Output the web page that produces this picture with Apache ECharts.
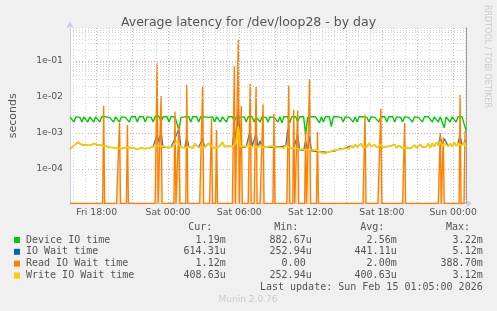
<!DOCTYPE html>
<html><head><meta charset="utf-8">
<script src="https://cdn.jsdelivr.net/npm/echarts@6/dist/echarts.min.js"></script>
<style>html,body{margin:0;padding:0;background:#F0F0F0}#c{width:497px;height:311px}</style>
</head><body><div id="c"></div>
<script>
// ---------- data (values in milliseconds) ----------
const seriesNames = ['Device IO time', 'IO Wait time', 'Read IO Wait time', 'Write IO Wait time'];
const seriesColors = ['#00CC00', '#0066B3', '#FF8000', '#FFCC00'];
const tickLabels = ['Fri 18:00', 'Sat 00:00', 'Sat 06:00', 'Sat 12:00', 'Sat 18:00', 'Sun 00:00'];
const yTickLabels = ['1e-04', '1e-03', '1e-02', '1e-01'];

// Device IO time, one value every 10 minutes from Fri 15:45 to Sun 01:05 (ms)
const deviceIO = [
2.8,2.7,2.0,2.8,2.8,2.7,2.0,2.8,2.7,2.0,
2.8,2.7,2.0,2.8,2.8,2.0,2.8,2.7,2.8,2.8,
2.7,2.8,2.0,2.8,2.7,2.0,2.8,2.8,2.7,2.8,
2.0,2.8,2.7,2.8,2.0,2.8,2.7,2.8,2.0,2.8,
2.8,2.7,2.0,2.8,3.2,2.8,2.0,2.8,2.7,2.8,
2.0,2.8,2.7,2.8,2.7,1.2,2.7,2.8,2.8,2.7,
2.8,2.0,2.8,2.7,2.8,2.0,2.8,2.7,2.8,2.8,
2.7,2.8,2.8,2.0,2.8,2.7,2.0,2.8,2.8,2.0,
2.8,2.7,2.8,2.1,2.8,2.8,2.7,2.8,2.8,2.0,
2.8,2.7,2.8,2.0,2.8,2.7,2.0,2.8,2.8,2.7,
2.0,2.8,2.8,2.7,2.8,2.0,2.8,1.9,2.8,2.7,
2.8,1.9,2.8,2.7,2.8,2.0,2.8,2.7,2.8,0.9,
2.7,2.8,2.8,2.7,2.8,2.7,1.9,2.8,2.0,2.8,
2.7,2.8,1.5,2.8,2.7,2.8,2.8,2.7,2.0,2.8,
2.8,2.7,2.8,2.0,2.8,2.0,2.8,2.7,2.8,2.8,
2.7,2.0,2.8,2.8,2.7,2.8,2.0,2.8,2.7,2.8,
2.0,2.8,2.7,2.8,2.0,2.8,2.8,2.7,2.0,2.8,
2.8,2.7,2.8,2.0,2.8,2.8,2.7,2.8,2.0,2.8,
2.7,2.8,2.8,2.0,2.8,2.7,2.0,2.8,2.7,1.4,
2.8,2.7,2.0,2.8,2.8,2.0,2.8,2.7,2.8,2.6,
1.19];

// IO Wait time (ms), every 10 minutes
const ioWait = [
0.36,0.40,0.45,0.50,0.55,0.52,0.47,0.50,0.46,0.48,
0.45,0.48,0.50,0.46,0.47,0.44,0.45,0.42,0.43,0.41,
0.40,0.42,0.39,0.41,0.38,0.40,0.37,0.36,0.39,0.38,
0.40,0.37,0.38,0.41,0.36,0.39,0.38,0.40,0.37,0.39,
0.38,0.40,0.42,0.40,0.90,0.55,1.10,0.40,0.41,0.40,
0.38,0.40,0.42,0.70,0.62,1.30,0.40,0.41,0.39,0.80,
0.42,0.40,0.38,0.50,0.45,0.40,0.41,0.70,0.40,0.44,
0.52,0.45,0.40,0.38,0.42,0.40,0.45,0.55,0.42,0.40,
0.43,0.48,0.42,1.50,0.57,5.10,0.60,0.40,0.43,0.41,
0.44,1.20,0.42,0.45,1.00,0.40,0.60,0.42,0.40,0.41,
0.42,0.40,0.44,0.41,0.40,0.42,0.40,0.42,0.38,0.45,
1.30,0.39,0.40,0.38,0.41,0.90,0.34,0.35,0.33,0.60,
0.33,0.80,0.32,0.34,0.31,0.33,0.30,0.28,0.30,0.27,
0.29,0.30,0.31,0.33,0.32,0.34,0.36,0.35,0.37,0.38,
0.40,0.36,0.45,0.39,0.47,0.41,0.44,0.50,0.40,0.45,
0.42,0.52,0.43,0.40,0.46,0.39,0.42,0.48,0.40,0.38,
0.42,0.37,0.44,0.40,0.47,0.39,0.45,0.40,0.38,0.43,
0.40,0.45,0.37,0.42,0.46,0.39,0.43,0.48,0.40,0.44,
0.42,0.50,0.40,0.52,0.42,0.55,0.45,0.80,0.44,0.70,
0.55,0.43,0.50,0.42,0.56,0.44,0.52,0.90,0.45,0.55,
0.614];

// Write IO Wait time (ms), every 10 minutes
const writeWait = [
0.36,0.40,0.45,0.50,0.55,0.52,0.47,0.50,0.46,0.48,
0.45,0.48,0.50,0.46,0.47,0.44,0.45,0.42,0.43,0.41,
0.40,0.42,0.39,0.41,0.38,0.40,0.37,0.36,0.39,0.38,
0.40,0.37,0.38,0.41,0.36,0.39,0.38,0.40,0.37,0.39,
0.38,0.40,0.42,0.40,0.45,0.50,0.43,0.40,0.41,0.40,
0.38,0.40,0.42,0.45,0.60,0.48,0.40,0.41,0.39,0.40,
0.42,0.40,0.38,0.50,0.45,0.40,0.41,0.39,0.40,0.44,
0.52,0.45,0.40,0.38,0.42,0.40,0.45,0.55,0.42,0.40,
0.43,0.48,0.42,0.40,0.55,1.50,0.42,0.40,0.43,0.41,
0.44,0.40,0.42,0.45,0.41,0.40,0.43,0.42,0.40,0.41,
0.42,0.40,0.44,0.41,0.40,0.42,0.40,0.42,0.38,0.45,
0.41,0.39,0.40,0.38,0.41,0.37,0.34,0.35,0.33,0.34,
0.33,0.35,0.32,0.34,0.31,0.33,0.30,0.28,0.30,0.27,
0.29,0.30,0.31,0.33,0.32,0.34,0.36,0.35,0.37,0.38,
0.40,0.36,0.45,0.39,0.47,0.41,0.44,0.50,0.40,0.45,
0.42,0.52,0.43,0.40,0.46,0.39,0.42,0.48,0.40,0.38,
0.42,0.37,0.44,0.40,0.47,0.39,0.45,0.40,0.38,0.43,
0.40,0.45,0.37,0.42,0.46,0.39,0.43,0.48,0.40,0.44,
0.42,0.50,0.40,0.52,0.42,0.55,0.45,0.58,0.44,0.50,
0.55,0.43,0.50,0.42,0.56,0.44,0.52,0.58,0.45,0.55,
0.41];

// Read IO Wait time: 0 except at these 5-minute samples (ms)
const readSpikeTimes = ['Fri 18:35','Fri 19:55','Fri 20:35','Fri 23:05','Fri 23:25','Sat 00:35','Sat 00:55',
  'Sat 01:35','Sat 02:55','Sat 03:40','Sat 04:05','Sat 05:35','Sat 05:55','Sat 06:10','Sat 06:55','Sat 07:25',
  'Sat 08:00','Sat 08:55','Sat 10:10','Sat 10:35','Sat 10:55','Sat 11:35','Sat 11:55','Sat 12:35','Sat 16:35',
  'Sat 17:55','Sat 19:55','Sat 22:55','Sat 23:10','Sun 00:35','Sun 01:00','Sun 01:05'];
const readSpikeValues = [5.7,1.9,1.7,85.7,10.5,3.9,1.7,
  21.8,20.4,2.5,1.2,70,388.7,5.5,23,19,
  6.1,3.4,20.5,4.4,4.1,1.1,31,1.07,3.2,
  4.7,1.9,1.0,0.75,11.5,1.12,1.12];

// legend statistics
const statHeaders = ['Cur:', 'Min:', 'Avg:', 'Max:'];
const statCur = ['1.19m', '614.31u', '1.12m', '408.63u'];
const statMin = ['882.67u', '252.94u', '0.00 ', '252.94u'];
const statAvg = ['2.56m', '441.11u', '2.00m', '400.63u'];
const statMax = ['3.22m', '5.12m', '388.70m', '3.12m'];

// ---------- build ----------
const Y_MIN = 1.11e-5, Y_MAX = 0.81;
const days = ['Sun','Mon','Tue','Wed','Thu','Fri','Sat'];
const pad = n => String(n).padStart(2, '0');
const categories = [];
const start = new Date(2026, 1, 13, 15, 45, 0);
for (let i = 0; i <= 400; i++) {
  const d = new Date(start.getTime() + i * 300000);
  categories.push(days[d.getDay()] + ' ' + pad(d.getHours()) + ':' + pad(d.getMinutes()));
}
const hourOf = v => parseInt(v.slice(4, 6), 10);
const isHour = v => v.endsWith(':00');

const toPairs = arr => arr.map((v, i) => [2 * i, v / 1000]);
const readData = categories.map(() => 0);
readSpikeTimes.forEach((t, k) => { const idx = categories.indexOf(t); if (idx >= 0) readData[idx] = readSpikeValues[k]; });
const readPairs = readData.map((v, i) => [i, v === 0 ? Y_MIN : v / 1000]);

const minorLevels = [];
[-5, -4, -3, -2, -1].forEach(e => { for (let m = 2; m <= 9; m++) { const v = m * Math.pow(10, e); if (v > Y_MIN && v < Y_MAX) minorLevels.push(v); } });

const FONT = 'DejaVu Sans';
const MONO = 'DejaVu Sans Mono';
const lineSeries = (name, data, color, width, extra) => Object.assign({
  name, type: 'line', data, showSymbol: false, symbol: 'none',
  lineStyle: { color, width }, itemStyle: { color }, animation: false, clip: true
}, extra || {});

const rowsY = [240, 251.8, 263.6, 275.5];
const colRight = [225.7, 311.7, 396.7, 482.7];
const headRight = [212.3, 298.3, 384.3, 470];
const graphics = [];
statHeaders.forEach((h, j) => graphics.push({ type: 'text', x: headRight[j], y: 227.5,
  style: { text: h, font: '10px ' + MONO, fill: '#555', textAlign: 'right', textVerticalAlign: 'middle' } }));
const cols = [statCur, statMin, statAvg, statMax];
seriesNames.forEach((n, r) => {
  graphics.push({ type: 'rect', shape: { x: 14, y: rowsY[r] - 3, width: 6, height: 6 }, style: { fill: seriesColors[r] } });
  graphics.push({ type: 'text', x: 26, y: rowsY[r], style: { text: n, font: '10px ' + MONO, fill: '#555', textVerticalAlign: 'middle' } });
  cols.forEach((c, j) => graphics.push({ type: 'text', x: colRight[j], y: rowsY[r],
    style: { text: c[r], font: '10px ' + MONO, fill: '#555', textAlign: 'right', textVerticalAlign: 'middle' } }));
});
graphics.push({ type: 'text', x: 482.7, y: 287.7, style: { text: 'Last update: Sun Feb 15 01:05:00 2026', font: '10px ' + MONO, fill: '#555', textAlign: 'right', textVerticalAlign: 'middle' } });
graphics.push({ type: 'text', x: 248, y: 300, style: { text: 'Munin 2.0.76', font: '9px ' + FONT, fill: '#cccccc', textAlign: 'center', textVerticalAlign: 'middle' } });
graphics.push({ type: 'text', x: 487, y: 5, rotation: -Math.PI / 2, style: { text: 'RRDTOOL / TOBI OETIKER', font: '8px ' + FONT, fill: '#cccccc', textAlign: 'left', textVerticalAlign: 'middle' } });

const chart = echarts.init(document.getElementById('c'), null, { renderer: 'canvas' });
chart.setOption({
  backgroundColor: '#F0F0F0',
  animation: false,
  title: { text: 'Average latency for /dev/loop28 - by day', left: 'center', top: 11,
    textStyle: { fontFamily: FONT, fontSize: 12.5, fontWeight: 'normal', color: '#555' } },
  grid: { left: 66, right: 31, top: 28, bottom: 107.5, show: true, backgroundColor: '#ffffff', borderWidth: 0 },
  xAxis: [{
    type: 'category', data: categories, boundaryGap: false,
    axisLine: { show: true, lineStyle: { color: '#c6cdf0', width: 1 }, symbol: ['none', 'arrow'], symbolSize: [6, 6], symbolOffset: [0, 6] },
    axisTick: { show: false },
    axisLabel: { interval: (i, v) => tickLabels.includes(v), color: '#555', fontFamily: FONT, fontSize: 9.3, margin: 5 },
    splitLine: { show: true, interval: (i, v) => isHour(v) && hourOf(v) % 3 === 0, lineStyle: { color: '#f2a6a6', type: [1, 2], width: 1 } }
  }, {
    type: 'category', data: categories, boundaryGap: false, position: 'bottom',
    axisLine: { show: false }, axisTick: { show: false }, axisLabel: { show: false },
    splitLine: { show: true, interval: (i, v) => isHour(v) && hourOf(v) % 3 !== 0, lineStyle: { color: '#d4d4d4', type: [1, 2], width: 1 } }
  }],
  yAxis: [{
    type: 'log', logBase: 10, min: Y_MIN, max: Y_MAX,
    name: 'seconds', nameLocation: 'middle', nameGap: 51, nameRotate: 90,
    nameTextStyle: { color: '#555', fontFamily: FONT, fontSize: 11 },
    axisLine: { show: true, lineStyle: { color: '#c6cdf0' }, symbol: ['none', 'arrow'], symbolSize: [6, 6], symbolOffset: [0, 6] },
    axisTick: { show: false },
    axisLabel: { color: '#555', fontFamily: FONT, fontSize: 9.3, margin: 7, showMinLabel: false, showMaxLabel: false,
      formatter: v => { const e = Math.log10(v); const r = Math.round(e); if (Math.abs(e - r) > 1e-6) return '';
        const s = '1e' + (r < 0 ? '-' : '+') + pad(Math.abs(r)); return yTickLabels.includes(s) ? s : ''; } },
    splitLine: { show: true, showMinLine: false, showMaxLine: false, lineStyle: { color: '#f2a6a6', type: [1, 2], width: 1 } }
  }, {
    type: 'log', logBase: 10, min: Y_MIN, max: Y_MAX, position: 'right',
    axisLine: { show: true, lineStyle: { color: '#999999' } }, axisTick: { show: false }, axisLabel: { show: false }, splitLine: { show: false }
  }],
  series: [
    { type: 'line', data: [], z: 1, silent: true,
      markLine: { silent: true, symbol: ['none', 'none'], label: { show: false }, animation: false,
        lineStyle: { color: '#d4d4d4', type: [1, 2], width: 1 }, data: minorLevels.map(v => ({ yAxis: v })) } },
    lineSeries(seriesNames[0], toPairs(deviceIO), seriesColors[0], 1.4),
    lineSeries(seriesNames[1], toPairs(ioWait), '#4a6f8f', 1.3),
    lineSeries(seriesNames[2], readPairs, seriesColors[2], 1.4, { areaStyle: { color: 'rgba(255,150,40,0.35)', origin: 'start' } }),
    lineSeries(seriesNames[3], toPairs(writeWait), seriesColors[3], 1.7)
  ],
  graphic: graphics
});
</script></body></html>
